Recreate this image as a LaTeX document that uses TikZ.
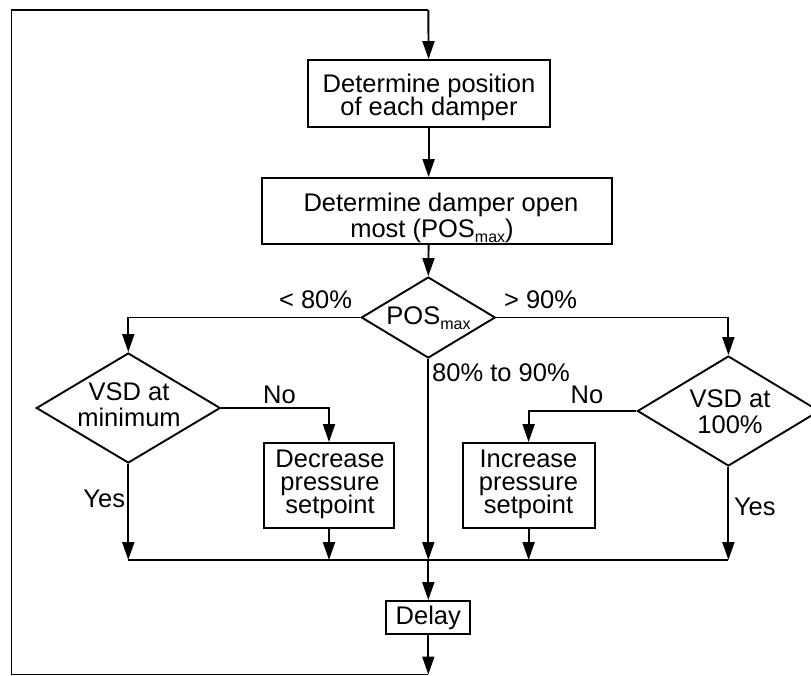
\documentclass[tikz,border=0pt]{standalone}
\usepackage{fontspec}
\setmainfont{Liberation Sans}
\usetikzlibrary{arrows.meta,shapes.geometric}
\newcommand\lowsub[1]{\raisebox{-0.2em}{\fontsize{16}{16}\selectfont #1}}
\tikzset{
  lw/.style={line width=1.9pt},
  boxnode/.style={draw, lw, inner sep=0pt, rectangle},
  dianode/.style={draw, lw, inner sep=0pt, diamond},
  txt/.style={anchor=base, inner sep=0pt, font=\fontsize{25.5}{25.5}\selectfont},
  arr/.style={lw, -{Triangle[length=18pt,width=12pt]}},
  ln/.style={lw}
}
\begin{document}
\begin{tikzpicture}[x=1pt,y=-1pt]
\fill[white] (0,0) rectangle (811,675);
\useasboundingbox (0,0) rectangle (811,675);

% boxes
\node[boxnode, minimum width=242pt, minimum height=66.5pt] (b1) at (428.6,93.3) {};
\node[txt] (b1t1) at (429,92) {Determine position};
\node[txt] (b1t2) at (429,115) {of each damper};

\node[boxnode, minimum width=350pt, minimum height=66pt] (b2) at (437,211) {};
\node[txt] (b2t1) at (441,211) {Determine damper open};
\node[txt] (b2t2) at (432,237) {most (POS\lowsub{max})};

\node[dianode, minimum width=134pt, minimum height=81pt] (pos) at (428.3,317.5) {};
\node[txt] (post) at (428.5,324) {POS\lowsub{max}};

\node[dianode, minimum width=184pt, minimum height=110pt] (d1) at (128.3,408) {};
\node[txt] (d1t1) at (129,400) {VSD at};
\node[txt] (d1t2) at (129,426) {minimum};

\node[dianode, minimum width=182pt, minimum height=110pt] (d2) at (728.4,411) {};
\node[txt] (d2t1) at (730,407) {VSD at};
\node[txt] (d2t2) at (730,433) {100\%};

\node[boxnode, minimum width=130pt, minimum height=85pt] (dec) at (329,485.5) {};
\node[txt] (dect1) at (330,467) {Decrease};
\node[txt] (dect2) at (330,490) {pressure};
\node[txt] (dect3) at (330,513) {setpoint};

\node[boxnode, minimum width=132pt, minimum height=85pt] (inc) at (528.6,485.5) {};
\node[txt] (inct1) at (528.5,467) {Increase};
\node[txt] (inct2) at (528.5,490) {pressure};
\node[txt] (inct3) at (528.5,513) {setpoint};

\node[boxnode, minimum width=84pt, minimum height=33pt] (delay) at (428.3,617.5) {};
\node[txt] (delayt) at (428.3,624) {Delay};

% labels
\node[txt] (l80) at (315.6,308) {< 80\%};
\node[txt] (l90) at (540.6,308) {> 90\%};
\node[txt, anchor=base west] (lmid) at (432,381) {80\% to 90\%};
\node[txt] (lno1) at (279.4,403) {No};
\node[txt] (lno2) at (587,403) {No};
\node[txt] (lyes1) at (104.2,507) {Yes};
\node[txt] (lyes2) at (754.8,515) {Yes};

% coordinates
\coordinate (ll) at (128.3,317.5);
\coordinate (rr) at (728.4,317.5);
\coordinate (mL) at (128.3,560);
\coordinate (mC) at (428.3,560);
\coordinate (mR) at (728.4,560);
\coordinate (bot) at (428.3,674.5);
\coordinate (bl) at (11.5,674.5);
\coordinate (tl) at (11.5,10);
\coordinate (tr) at (428.3,10);

% connectors
\draw[arr] (tr) -- (b1.north);
\draw[arr] (b1.south) -- (b1.south |- b2.north);
\draw[arr] (b1.south |- b2.south) -- (pos.north);
\draw[arr] (pos.west) -- (ll) -- (d1.north);
\draw[arr] (pos.east) -- (rr) -- (d2.north);
\draw[arr] (d1.east) -| (dec.north);
\draw[arr] (d2.west) -| (inc.north);
\draw[ln] (mL) -- (mR);
\draw[arr] (d1.south) -- (mL);
\draw[arr] (dec.south) -- (dec.south |- mL);
\draw[arr] (pos.south) -- (mC);
\draw[arr] (inc.south) -- (inc.south |- mL);
\draw[arr] (d2.south) -- (mR);
\draw[arr] (mC) -- (delay.north);
\draw[arr] (delay.south) -- (bot);
\draw[ln] (bot) -- (bl) -- (tl) -- (tr);
\end{tikzpicture}
\end{document}
